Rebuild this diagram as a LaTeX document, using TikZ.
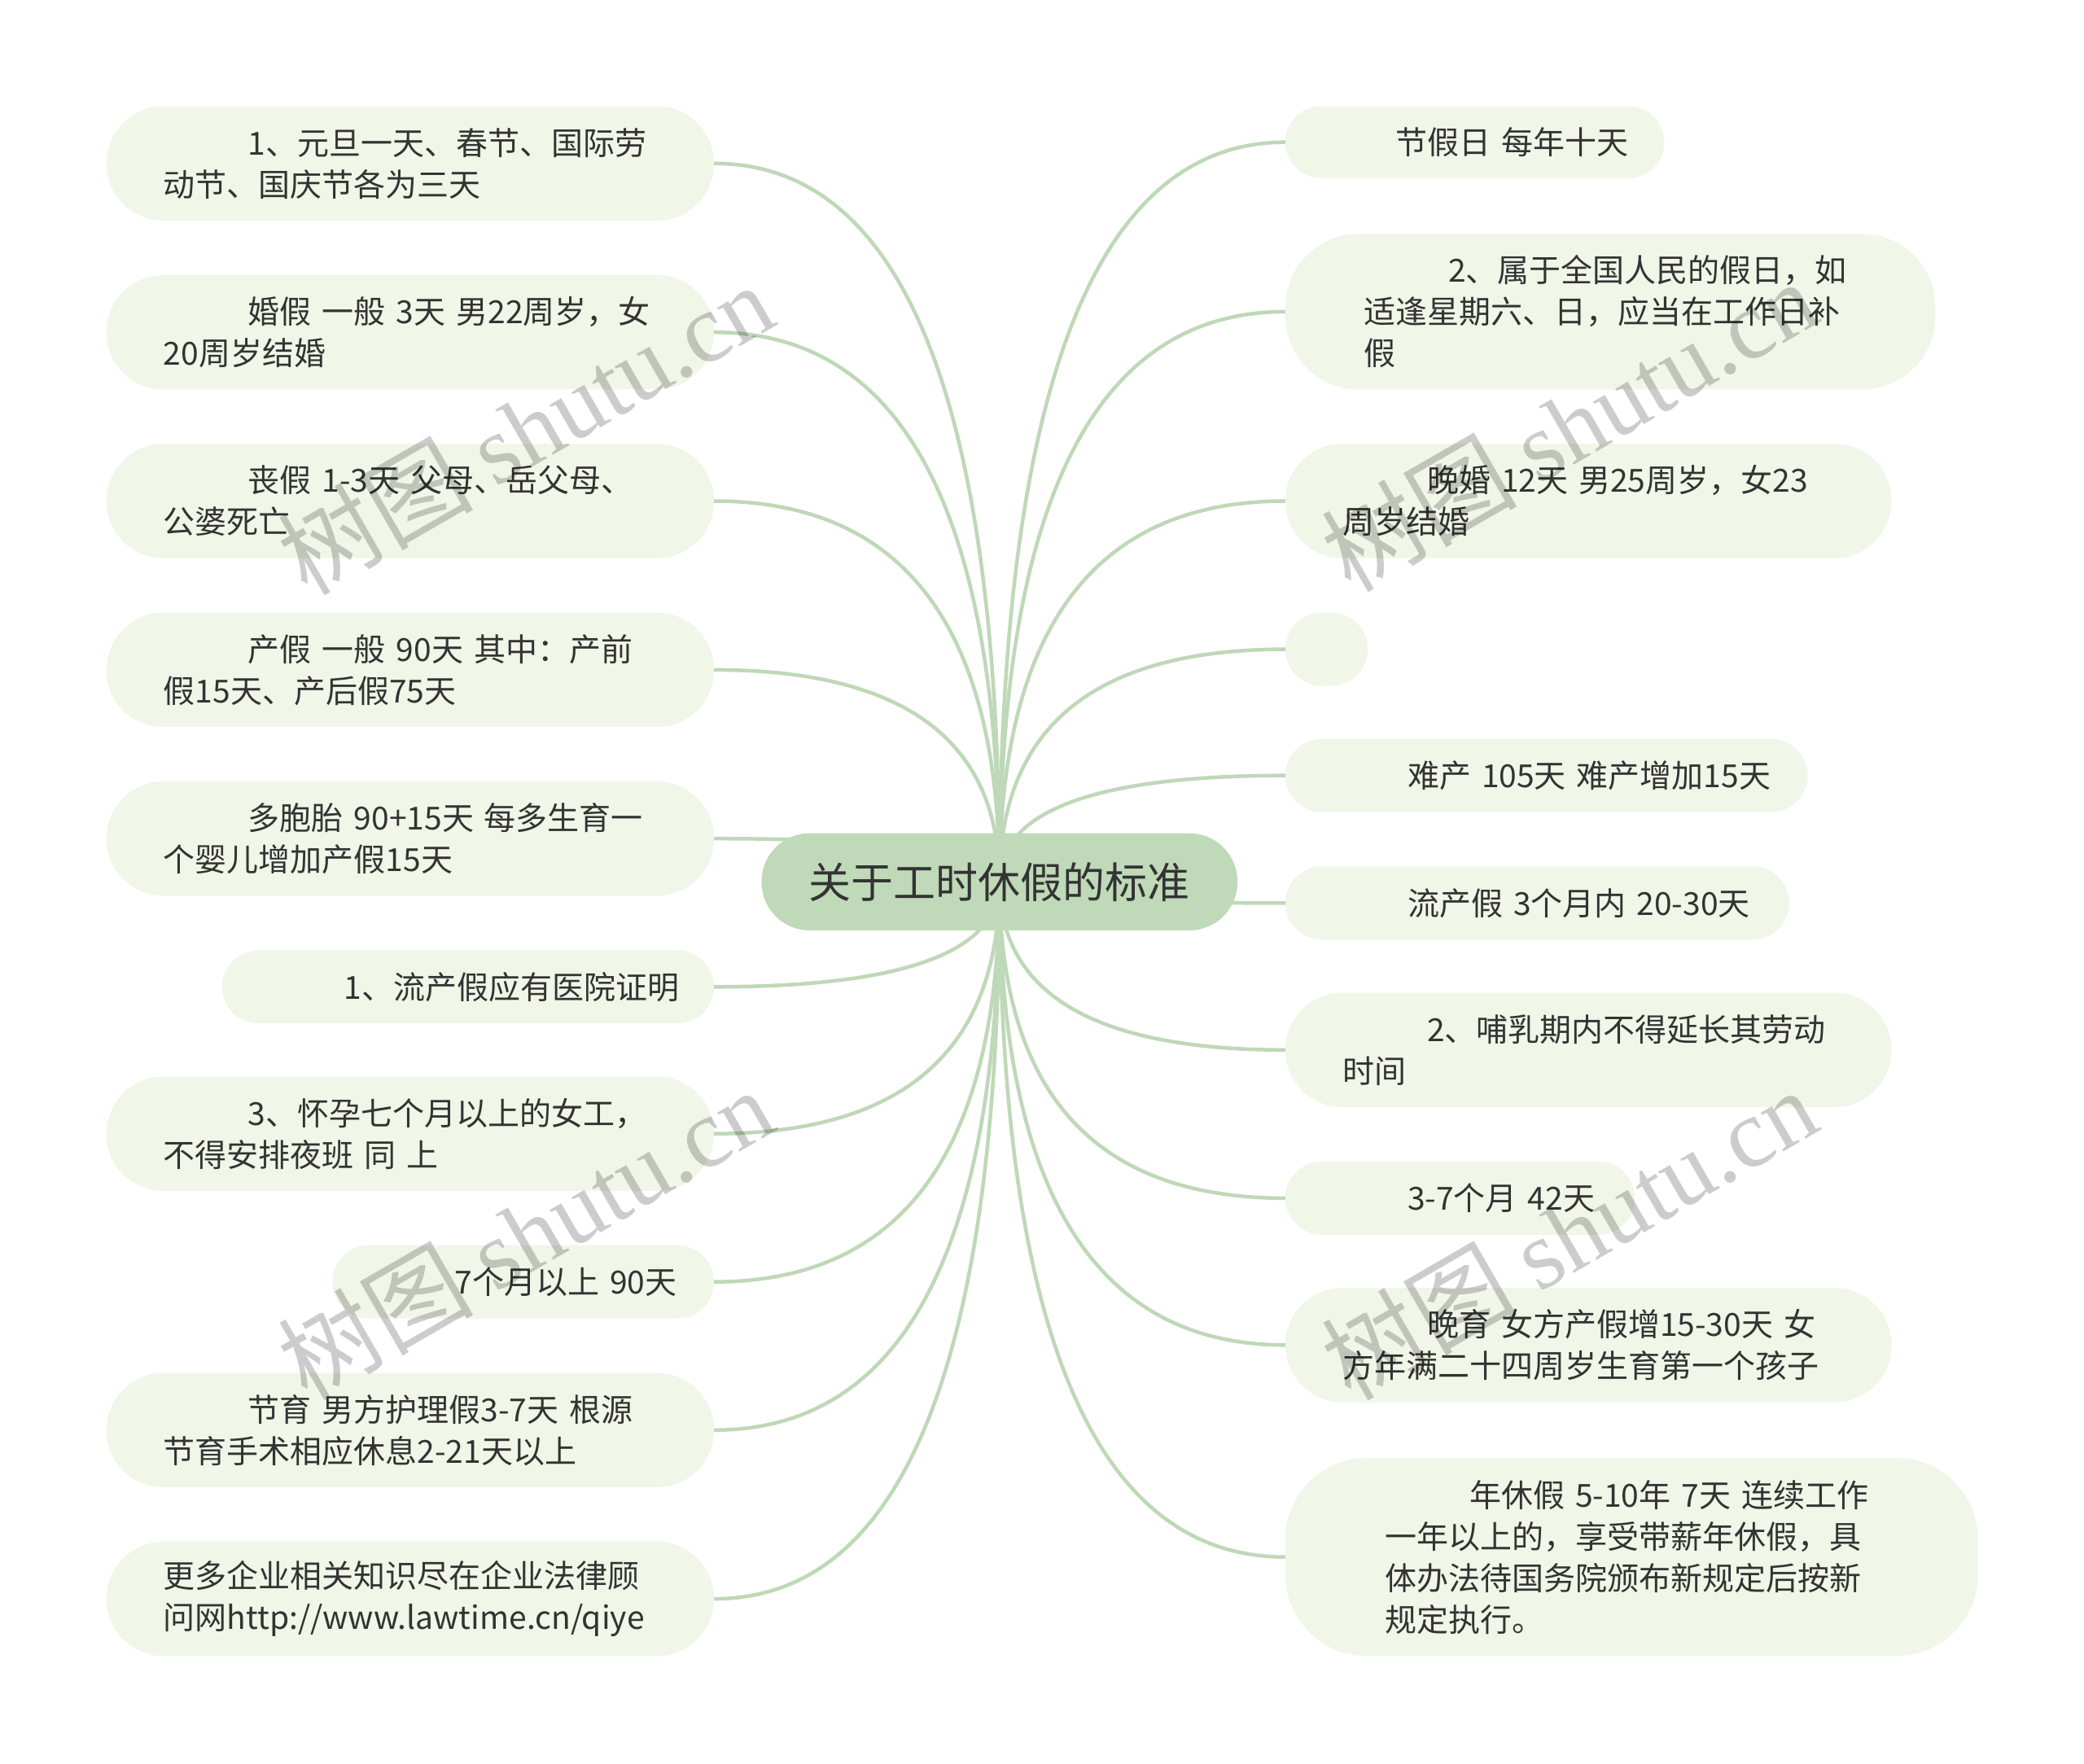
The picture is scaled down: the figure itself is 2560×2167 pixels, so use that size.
\documentclass[tikz,border=0pt]{standalone}
\usepackage{fontspec}
\setmainfont{Noto Sans CJK SC}
\newfontfamily\cjkfont{Noto Sans CJK SC}
\newfontfamily\wmlatin{Liberation Serif}
\usetikzlibrary{calc,backgrounds}
\setlength{\parindent}{0pt}
\definecolor{leaffill}{RGB}{240,246,232}
\definecolor{rootfill}{RGB}{191,217,185}
\definecolor{connc}{RGB}{190,216,184}
\definecolor{txt}{RGB}{51,51,51}
\tikzset{
  leaf/.style={fill=leaffill, draw=none, anchor=west, inner ysep=0pt, inner xsep=70pt,
    align=left, text=txt, font=\cjkfont\fontsize{39}{51}\selectfont},
  rootbox/.style={fill=rootfill, draw=none, text=txt, inner sep=0pt,
    minimum width=584.5pt, minimum height=119.2pt, rounded corners=59pt,
    font=\cjkfont\fontsize{52}{60}\selectfont},
  conn/.style={draw=connc, line width=4.5pt, line cap=round},
  wmark/.style={text=black, opacity=0.2, rotate=30, inner sep=0pt}
}
\begin{document}
\begin{tikzpicture}[x=1pt,y=-1pt]
\useasboundingbox (0,0) rectangle (2560,2167);

\node[rootbox] (root) at (1227.8,1083.3) {关于工时休假的标准};

% left side
\node[leaf, minimum height=140.4pt, text width=606.2pt, rounded corners=70pt] (L1) at (130.6,200.8)
  {\mbox{\hspace*{104pt}1、元旦一天、春节、国际劳}\\\mbox{动节、国庆节各为三天}};
\node[leaf, minimum height=140.4pt, text width=606.2pt, rounded corners=70pt] (L2) at (130.6,408.2)
  {\mbox{\hspace*{104pt}婚假 一般 3天 男22周岁，女}\\\mbox{20周岁结婚}};
\node[leaf, minimum height=140.4pt, text width=606.2pt, rounded corners=70pt] (L3) at (130.6,615.5)
  {\mbox{\hspace*{104pt}丧假 1-3天 父母、岳父母、}\\\mbox{公婆死亡}};
\node[leaf, minimum height=140.4pt, text width=606.2pt, rounded corners=70pt] (L4) at (130.6,822.9)
  {\mbox{\hspace*{104pt}产假 一般 90天 其中：产前}\\\mbox{假15天、产后假75天}};
\node[leaf, minimum height=140.4pt, text width=606.2pt, rounded corners=70pt] (L5) at (130.6,1030.2)
  {\mbox{\hspace*{104pt}多胞胎 90+15天 每多生育一}\\\mbox{个婴儿增加产假15天}};
\node[leaf, minimum height=89.8pt, text width=464.1pt, rounded corners=44.8pt] (L6) at (272.7,1212.3)
  {\mbox{\hspace*{80pt}1、流产假应有医院证明}};
\node[leaf, minimum height=140.4pt, text width=606.2pt, rounded corners=70pt] (L7) at (130.6,1392.7)
  {\mbox{\hspace*{104pt}3、怀孕七个月以上的女工，}\\\mbox{不得安排夜班 同 上}};
\node[leaf, minimum height=89.8pt, text width=328.6pt, rounded corners=44.8pt] (L8) at (408.2,1574.7)
  {\mbox{\hspace*{80pt}7个月以上 90天}};
\node[leaf, minimum height=140.4pt, text width=606.2pt, rounded corners=70pt] (L9) at (130.6,1756.8)
  {\mbox{\hspace*{104pt}节育 男方护理假3-7天 根源}\\\mbox{节育手术相应休息2-21天以上}};
\node[leaf, minimum height=140.4pt, text width=606.2pt, rounded corners=70pt] (L10) at (130.6,1964.1)
  {\mbox{更多企业相关知识尽在企业法律顾}\\\mbox{问网http://www.lawtime.cn/qiye}};

% right side
\node[leaf, minimum height=88.2pt, text width=325.3pt, rounded corners=44pt] (R1) at (1578.8,174.7)
  {\mbox{\hspace*{65pt}节假日 每年十天}};
\node[leaf, minimum height=191pt, inner xsep=96pt, text width=606.4pt, rounded corners=90pt] (R2) at (1578.8,382.9)
  {\mbox{\hspace*{104pt}2、属于全国人民的假日，如}\\\mbox{适逢星期六、日，应当在工作日补}\\\mbox{假}};
\node[leaf, minimum height=140.4pt, text width=604.5pt, rounded corners=70pt] (R3) at (1578.8,615.5)
  {\mbox{\hspace*{104pt}晚婚 12天 男25周岁，女23}\\\mbox{周岁结婚}};
\node[leaf, minimum height=89.8pt, minimum width=101.2pt, inner xsep=0pt, rounded corners=44.8pt] (R4) at (1578.8,797.6) {};
\node[leaf, minimum height=89.8pt, text width=501.7pt, rounded corners=44.8pt] (R5) at (1578.8,952.7)
  {\mbox{\hspace*{80pt}难产 105天 难产增加15天}};
\node[leaf, minimum height=89.8pt, text width=478.8pt, rounded corners=44.8pt] (R6) at (1578.8,1109.4)
  {\mbox{\hspace*{80pt}流产假 3个月内 20-30天}};
\node[leaf, minimum height=140.4pt, text width=604.5pt, rounded corners=70pt] (R7) at (1578.8,1289.8)
  {\mbox{\hspace*{104pt}2、哺乳期内不得延长其劳动}\\\mbox{时间}};
\node[leaf, minimum height=89.8pt, text width=289.2pt, rounded corners=44.8pt] (R8) at (1578.8,1471.9)
  {\mbox{\hspace*{80pt}3-7个月 42天}};
\node[leaf, minimum height=140.4pt, text width=604.5pt, rounded corners=70pt] (R9) at (1578.8,1652.3)
  {\mbox{\hspace*{104pt}晚育 女方产假增15-30天 女}\\\mbox{方年满二十四周岁生育第一个孩子}};
\node[leaf, minimum height=243.2pt, inner xsep=122pt, text width=606.7pt, rounded corners=100pt] (R10) at (1578.8,1912.7)
  {\mbox{\hspace*{104pt}年休假 5-10年 7天 连续工作}\\\mbox{一年以上的，享受带薪年休假，具}\\\mbox{体办法待国务院颁布新规定后按新}\\\mbox{规定执行。}};

% background and connectors
\begin{scope}[on background layer]
\fill[white] (0,0) rectangle (2560,2167);
\foreach \n in {L1,L2,L3,L4,L5,L6,L7,L8,L9,L10} {
  \coordinate (c\n) at (root.center |- \n.east);
  \draw[conn] (root.center) .. controls ($(root.center)!0.6667!(c\n)$) and ($(\n.east)!0.6667!(c\n)$) .. (\n.east);
}
\foreach \n in {R1,R2,R3,R4,R5,R6,R7,R8,R9,R10} {
  \coordinate (c\n) at (root.center |- \n.west);
  \draw[conn] (root.center) .. controls ($(root.center)!0.6667!(c\n)$) and ($(\n.west)!0.6667!(c\n)$) .. (\n.west);
}
\end{scope}

% watermarks
\node[wmark] (w1) at (645,526) {\fontsize{120}{120}\selectfont\cjkfont 树图 \wmlatin shutu.cn};
\node[wmark] (w2) at (1927,522) {\fontsize{120}{120}\selectfont\cjkfont 树图 \wmlatin shutu.cn};
\node[wmark] (w3) at (645,1515) {\fontsize{120}{120}\selectfont\cjkfont 树图 \wmlatin shutu.cn};
\node[wmark] (w4) at (1927,1515) {\fontsize{120}{120}\selectfont\cjkfont 树图 \wmlatin shutu.cn};
\end{tikzpicture}
\end{document}
